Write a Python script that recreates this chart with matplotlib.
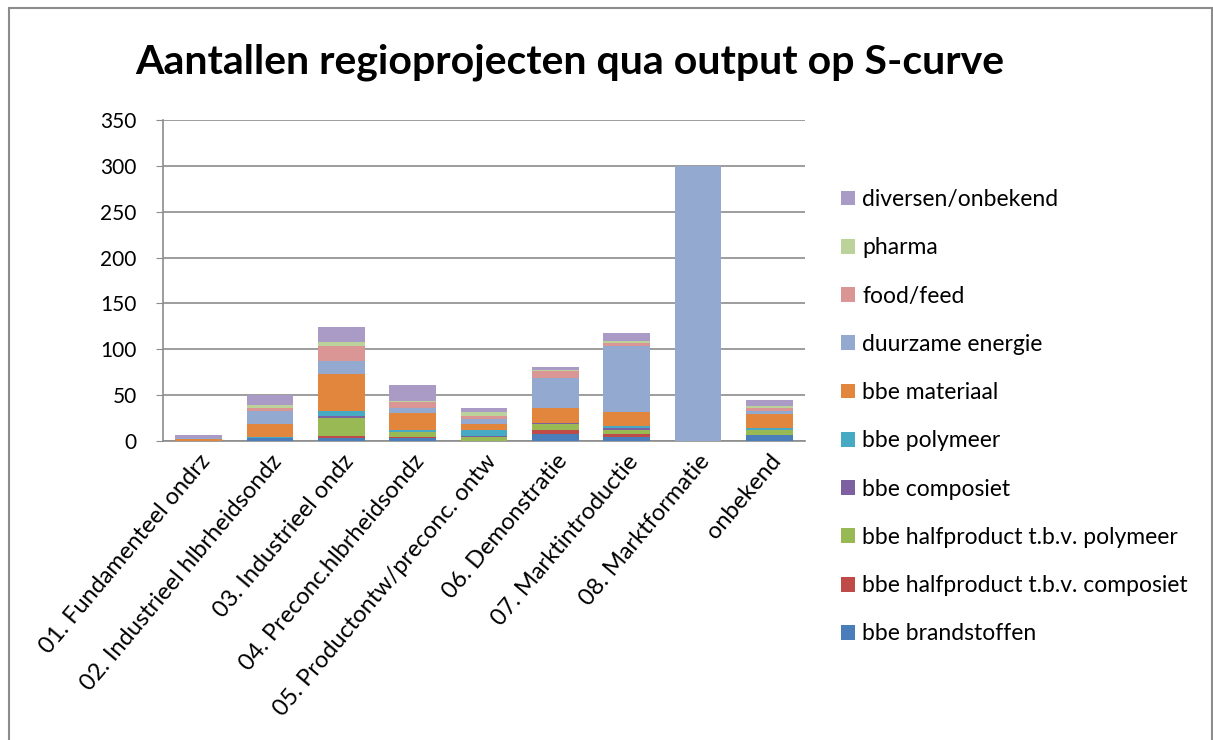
import matplotlib
matplotlib.use("Agg")
import matplotlib.pyplot as plt
from matplotlib.patches import Rectangle, Patch
import numpy as np

categories = ["01. Fundamenteel ondrz", "02. Industrieel hlbrheidsondz", "03. Industrieel ondz",
              "04. Preconc.hlbrheidsondz", "05. Productontw/preconc. ontw", "06. Demonstratie",
              "07. Marktintroductie", "08. Marktformatie", "onbekend"]

series_names = ["bbe brandstoffen", "bbe halfproduct t.b.v. composiet", "bbe halfproduct t.b.v. polymeer",
                "bbe composiet", "bbe polymeer", "bbe materiaal", "duurzame energie",
                "food/feed", "pharma", "diversen/onbekend"]

bbe_brandstoffen = [0, 3, 3, 3, 0, 7.5, 4.5, 0, 6]
bbe_halfprod_composiet = [0, 0, 2, 1.5, 0, 4.5, 3, 0, 0]
bbe_halfprod_polymeer = [0, 0, 20.5, 5.5, 4.5, 6.5, 5, 0, 5.5]
bbe_composiet = [0, 0, 2, 0, 1, 1.5, 2, 0, 0]
bbe_polymeer = [0, 1, 5.5, 2.5, 6, 0, 2, 0, 3]
bbe_materiaal = [2, 15, 40, 18, 7.5, 16.5, 15, 0, 14.5]
duurzame_energie = [1, 13.5, 14.5, 6, 4.5, 32, 72.5, 300, 3.5]
food_feed = [0, 4, 16, 6, 3.5, 8, 2.5, 0, 4]
pharma = [0, 3, 4, 1, 4.5, 1, 3, 0, 2]
diversen = [3, 11, 17, 18, 4.5, 3.5, 8.5, 0, 6.5]

series = [bbe_brandstoffen, bbe_halfprod_composiet, bbe_halfprod_polymeer, bbe_composiet,
          bbe_polymeer, bbe_materiaal, duurzame_energie, food_feed, pharma, diversen]
colors = ["#4A7EBB", "#BE4B48", "#98B954", "#7D60A0", "#46AAC5", "#E2863E",
          "#93A9D0", "#D99695", "#BBD39A", "#A99BC5"]

yticks = [0, 50, 100, 150, 200, 250, 300, 350]

FONT = "Lato"
plt.rcParams["font.family"] = [FONT, "DejaVu Sans"]

fig = plt.figure(figsize=(12.13, 7.40), dpi=100)
fig.patches.append(Rectangle((9 / 1213, -0.05), (1212 - 9) / 1213, (740 - 8) / 740 + 0.05,
                             transform=fig.transFigure, fill=False, edgecolor="#8C8C8C",
                             linewidth=1.5, zorder=0))

ax = fig.add_axes([163 / 1213, (740 - 441) / 740, (805 - 163) / 1213, (441 - 120) / 740])
x = np.arange(len(categories))
bottom = np.zeros(len(categories))
for vals, name, col in zip(series, series_names, colors):
    ax.bar(x, vals, width=0.65, bottom=bottom, color=col, label=name, zorder=3,
           edgecolor="none")
    bottom += np.array(vals)

ax.set_xlim(-0.5, len(categories) - 0.5)
ax.set_ylim(0, 350)
ax.set_yticks(yticks)
ax.set_yticklabels([str(v) for v in yticks], fontsize=15)
ax.yaxis.grid(True, color="#8C8C8C", linewidth=1.2, zorder=0)
ax.set_axisbelow(True)
for s in ["top", "right"]:
    ax.spines[s].set_visible(False)
for s in ["left", "bottom"]:
    ax.spines[s].set_color("#8C8C8C")
    ax.spines[s].set_linewidth(1.2)
ax.tick_params(axis="y", length=5, color="#8C8C8C", pad=14)
ax.tick_params(axis="x", length=0, pad=7)
ax.set_xticks(x)
ax.set_xticklabels(categories, rotation=50, ha="right", va="top", rotation_mode="anchor",
                   fontsize=17)

fig.text(570 / 1213, 1 - 62 / 740, "Aantallen regioprojecten qua output op S-curve",
         ha="center", va="center", fontsize=29.5, fontweight="bold")

handles = [Patch(facecolor=c, edgecolor="none") for c in colors][::-1]
labels = series_names[::-1]
fig.legend(handles, labels, loc="upper left", bbox_to_anchor=(841 / 1213, 1 - 189 / 740),
           frameon=False, fontsize=16.5, labelspacing=1.19, handlelength=0.62,
           handleheight=0.62, handletextpad=0.3, borderaxespad=0, borderpad=0)

fig.savefig("out.png", dpi=100, facecolor="white")
